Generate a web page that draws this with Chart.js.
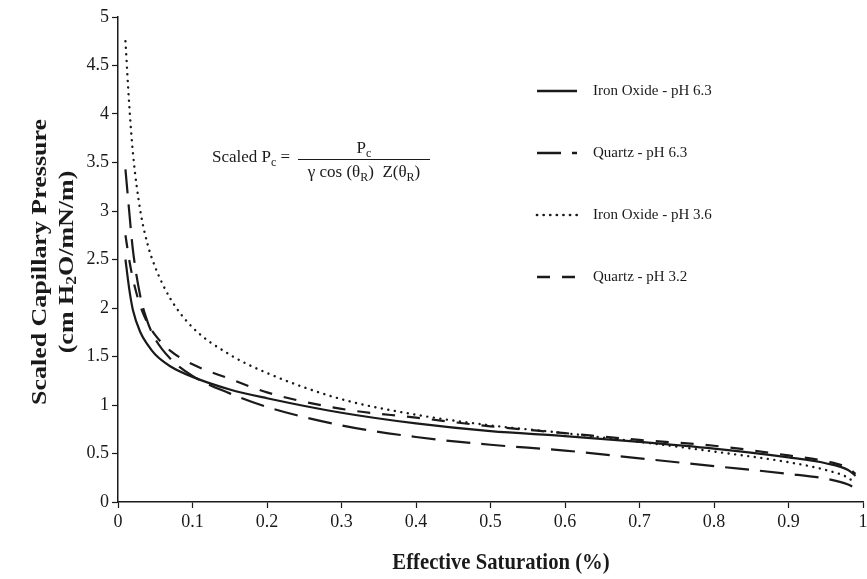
<!DOCTYPE html>
<html>
<head>
<meta charset="utf-8">
<script src="https://cdn.jsdelivr.net/npm/chart.js@4"></script>
<style>
  html, body { margin: 0; padding: 0; background: #fff; }
  #wrap { width: 867px; height: 579px; }
</style>
</head>
<body>
<div id="wrap"><canvas id="pcChart" width="867" height="579"></canvas></div>
<script>
// effective saturation (x) shared by all curves
var satValues = [0.01, 0.015, 0.02, 0.03, 0.04, 0.05, 0.07, 0.1, 0.15, 0.2, 0.3, 0.4, 0.5, 0.6, 0.7, 0.8, 0.9, 0.95, 0.98, 0.99];

var ironOxide63 = [2.5, 2.2, 1.98, 1.75, 1.62, 1.52, 1.40, 1.29, 1.16, 1.07, 0.92, 0.81, 0.73, 0.68, 0.62, 0.55, 0.46, 0.40, 0.33, 0.27];
var quartz63    = [3.43, 3.0, 2.6, 2.12, 1.85, 1.68, 1.48, 1.30, 1.12, 0.98, 0.79, 0.67, 0.59, 0.53, 0.45, 0.37, 0.29, 0.24, 0.18, 0.14];
var ironOxide36 = [4.75, 4.1, 3.6, 3.0, 2.65, 2.42, 2.1, 1.8, 1.52, 1.33, 1.06, 0.90, 0.79, 0.71, 0.62, 0.52, 0.41, 0.33, 0.25, 0.19];
var quartz32    = [2.75, 2.5, 2.3, 2.02, 1.84, 1.72, 1.56, 1.42, 1.27, 1.13, 0.96, 0.87, 0.78, 0.71, 0.64, 0.58, 0.48, 0.42, 0.35, 0.29];

var seriesNames = ['Iron Oxide - pH 6.3', 'Quartz - pH 6.3', 'Iron Oxide - pH 3.6', 'Quartz - pH 3.2'];
var xTickLabels = ['0', '0.1', '0.2', '0.3', '0.4', '0.5', '0.6', '0.7', '0.8', '0.9', '1'];
var yTickLabels = ['0', '0.5', '1', '1.5', '2', '2.5', '3', '3.5', '4', '4.5', '5'];

var dashes = [[], [24, 11], [0.1, 6.5], [13, 12]];
var widths = [2.2, 2.2, 2.4, 2.2];
var ink = '#1a1a1a';
var serif = '"Liberation Serif", "Times New Roman", serif';

function toPoints(ys) {
    return satValues.map(function (x, i) {
        return { x: x, y: ys[i] };
    });
}

var allSeries = [ironOxide63, quartz63, ironOxide36, quartz32];
var datasets = allSeries.map(function (ys, i) {
    return {
        label: seriesNames[i],
        data: toPoints(ys),
        borderColor: ink,
        borderWidth: widths[i],
        borderDash: dashes[i],
        borderCapStyle: i === 2 ? 'round' : 'butt',
        pointRadius: 0,
        fill: false,
        cubicInterpolationMode: 'monotone'
    };
});

// text pieces with subscripts: [{t, sub}]
function partsWidth(ctx, parts, big, small) {
    var w = 0;
    parts.forEach(function (p) {
        ctx.font = p.sub ? small : big;
        w += ctx.measureText(p.t).width;
    });
    return w;
}
function drawParts(ctx, parts, x, y, big, small, drop) {
    parts.forEach(function (p) {
        ctx.font = p.sub ? small : big;
        ctx.fillText(p.t, x, y + (p.sub ? drop : 0));
        x += ctx.measureText(p.t).width;
    });
    return x;
}

// legend, formula and axis titles
var annotations = {
    id: 'annotations',
    afterDraw: function (chart) {
        var ctx = chart.ctx;
        ctx.save();
        ctx.fillStyle = ink;
        ctx.strokeStyle = ink;

        // legend
        var legendY = [91, 153, 215, 277];
        ctx.font = '15px ' + serif;
        ctx.textBaseline = 'middle';
        ctx.textAlign = 'left';
        seriesNames.forEach(function (name, i) {
            ctx.beginPath();
            ctx.lineWidth = widths[i] + 0.3;
            ctx.setLineDash(dashes[i]);
            ctx.lineCap = i === 2 ? 'round' : 'butt';
            ctx.moveTo(537, legendY[i]);
            ctx.lineTo(577, legendY[i]);
            ctx.stroke();
            ctx.setLineDash([]);
            ctx.fillText(name, 593, legendY[i]);
        });

        // formula
        ctx.textBaseline = 'alphabetic';
        var big = '17px ' + serif, small = '12px ' + serif;
        drawParts(ctx, [{ t: 'Scaled P' }, { t: 'c', sub: true }, { t: ' =' }], 212, 162, big, small, 4);
        ctx.lineWidth = 1;
        ctx.beginPath();
        ctx.moveTo(298, 159.5);
        ctx.lineTo(430, 159.5);
        ctx.stroke();
        var num = [{ t: 'P' }, { t: 'c', sub: true }];
        drawParts(ctx, num, 364 - partsWidth(ctx, num, big, small) / 2, 153, big, small, 4);
        var den = [{ t: '\u03b3 cos (\u03b8' }, { t: 'R', sub: true }, { t: ')  Z(\u03b8' }, { t: 'R', sub: true }, { t: ')' }];
        drawParts(ctx, den, 364 - partsWidth(ctx, den, big, small) / 2, 177, big, small, 4);

        // x axis title
        ctx.save();
        ctx.font = 'bold 23px ' + serif;
        ctx.textAlign = 'center';
        ctx.textBaseline = 'middle';
        ctx.translate(501, 563);
        ctx.scale(0.9, 1);
        ctx.fillText('Effective Saturation (%)', 0, 0);
        ctx.restore();

        // y axis title, stretched along its length
        var bigB = 'bold 22px ' + serif, smallB = 'bold 15px ' + serif;
        ctx.translate(0, 262);
        ctx.rotate(-Math.PI / 2);
        ctx.scale(1.18, 1);
        ctx.textBaseline = 'middle';
        ctx.textAlign = 'center';
        ctx.font = bigB;
        ctx.fillText('Scaled Capillary Pressure', 0, 40);
        var line2 = [{ t: '(cm H' }, { t: '2', sub: true }, { t: 'O/mN/m)' }];
        ctx.textAlign = 'left';
        drawParts(ctx, line2, -partsWidth(ctx, line2, bigB, smallB) / 2, 67, bigB, smallB, 5);
        ctx.restore();
    }
};

var axisGrid = {
    display: true,
    drawOnChartArea: false,
    drawTicks: true,
    tickLength: 6,
    tickColor: ink,
    tickWidth: 1.2
};

var pcChart = new Chart(document.getElementById('pcChart').getContext('2d'), {
    type: 'line',
    data: { datasets: datasets },
    plugins: [annotations],
    options: {
        responsive: false,
        animation: false,
        layout: { padding: { top: 17, right: 0, left: 0, bottom: 0 } },
        plugins: {
            legend: { display: false },
            tooltip: { enabled: false }
        },
        scales: {
            x: {
                type: 'linear',
                min: 0,
                max: 1,
                ticks: {
                    stepSize: 0.1,
                    color: ink,
                    padding: 3,
                    maxRotation: 0,
                    font: { family: serif, size: 18 },
                    callback: function (v) {
                        return xTickLabels[Math.round(v * 10)];
                    }
                },
                grid: axisGrid,
                border: { display: true, color: ink, width: 1.5 },
                afterFit: function (s) {
                    s.height = 77;
                    s.paddingRight = 4;
                }
            },
            y: {
                min: 0,
                max: 5,
                ticks: {
                    stepSize: 0.5,
                    color: ink,
                    padding: 3,
                    font: { family: serif, size: 18 },
                    callback: function (v) {
                        return yTickLabels[Math.round(v * 2)];
                    }
                },
                grid: axisGrid,
                border: { display: true, color: ink, width: 1.5 },
                afterFit: function (s) { s.width = 118; }
            }
        }
    }
});
</script>
</body>
</html>
